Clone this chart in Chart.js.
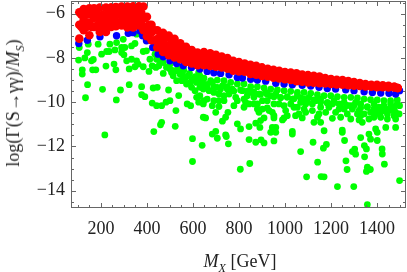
<!DOCTYPE html>
<html>
<head>
<meta charset="utf-8">
<script src="https://cdn.jsdelivr.net/npm/chart.js@4"></script>
<style>
  html, body { margin: 0; padding: 0; background: #fff; }
  #wrap { position: relative; width: 407px; height: 272px; overflow: hidden; }
  canvas { position: absolute; left: 0; top: 0; }
  .axisTitle { position: absolute; font-family: "Liberation Serif", serif; font-size: 18px; color: #222; white-space: nowrap; line-height: 1; }
  .axisTitle i { font-style: italic; }
  .axisTitle sub { font-size: 12px; line-height: 0; }
  #yTitle { left: 13px; top: 103px; transform: translate(-50%, -50%) rotate(-90deg); }
  #xTitle { left: 240px; top: 261px; transform: translate(-50%, -50%); }
</style>
</head>
<body>
<div id="wrap">
  <canvas id="grafico" width="407" height="272"></canvas>
  <div class="axisTitle" id="yTitle">log(Γ(S→γγ)/<i>M</i><sub><i>S</i></sub>)</div>
  <div class="axisTitle" id="xTitle"><i>M</i><sub><i>X</i></sub> [GeV]</div>
</div>
<script>
// ejes
const xMajorTicks = [200, 400, 600, 800, 1000, 1200, 1400];
const xMinorTicks = [100, 150, 250, 300, 350, 450, 500, 550, 650, 700, 750, 850, 900, 950, 1050, 1100, 1150, 1250, 1300, 1350, 1450, 1500];
const yMajorTicks = [-14, -12, -10, -8, -6];
const yMinorTicks = [-14.5, -13.5, -13, -12.5, -11.5, -11, -10.5, -9.5, -9, -8.5, -7.5, -7, -6.5, -5.5];

// puntos rojos, columnas
const redX = [106, 125, 150, 170, 195, 222, 245, 265, 290, 315, 340, 365, 385, 400, 420, 445, 470, 495, 520, 545, 570, 595, 620,
  648, 675, 700, 725, 750, 775, 800, 825, 850, 875, 900, 925, 950, 975, 1000, 1025, 1050, 1075, 1100, 1125, 1150, 1175, 1200, 1225, 1250, 1275, 1300, 1325, 1350, 1375, 1400, 1425, 1450, 1475, 1490];
const redTop = [-5.94, -5.79, -5.76, -5.76, -5.73, -5.73, -5.71, -5.7, -5.68, -5.68, -5.67, -5.67, -5.68, -6.14, -6.51, -6.75, -6.87, -6.99, -7.14, -7.34, -7.5, -7.64, -7.76,
  -7.74, -7.79, -7.86, -7.94, -8.01, -8.13, -8.19, -8.25, -8.31, -8.36, -8.43, -8.49, -8.54, -8.58, -8.64, -8.66, -8.7, -8.75, -8.78, -8.81, -8.84, -8.91, -8.96, -8.99, -9.0, -9.05, -9.09, -9.14, -9.18, -9.21, -9.21, -9.24, -9.26, -9.3, -9.36];
const redMid = [-6.5, -6.3, -6.4, -6.2, -6.3, -6.3, -6.2, -6.1, -6.1, -6.2, -6.15, -6.1, -6.2, -6.6, -6.85, -7.15, -7.3, -7.45, -7.55, -7.7, -7.85, -7.95, -8.05,
  -8.05, -8.08, -8.13, -8.19, -8.25, -8.36, -8.4, -8.44, -8.52, -8.56, -8.62, -8.67, -8.72, -8.75, -8.8, -8.83, -8.87, -8.91, -8.94, -8.96, -8.99, -9.03, -9.07, -9.09, -9.1, -9.14, -9.17, -9.2, -9.23, -9.25, -9.26, -9.28, -9.3, -9.31, -9.36];
const redBottom = [-7.13, -6.75, -6.98, -6.6, -6.83, -6.83, -6.6, -6.57, -6.53, -6.63, -6.63, -6.53, -6.75, -7.02, -7.2, -7.53, -7.73, -7.88, -7.98, -8.06, -8.18, -8.25, -8.33,
  -8.33, -8.36, -8.4, -8.43, -8.49, -8.58, -8.61, -8.62, -8.73, -8.76, -8.82, -8.85, -8.9, -8.93, -8.96, -9.0, -9.05, -9.08, -9.11, -9.12, -9.14, -9.15, -9.18, -9.2, -9.21, -9.23, -9.26, -9.27, -9.29, -9.3, -9.32, -9.32, -9.33, -9.33, -9.36];
// relleno de la parte ancha de la banda
const redFillX = [115, 138, 160, 182, 208, 233, 255, 278, 302, 328, 352, 375, 392, 410, 432, 458, 482, 508, 532, 558, 582, 608, 634, 660, 688];
const redFillUpper = [-6.05, -6.05, -6.05, -6.0, -6.05, -6.0, -6.0, -5.95, -5.95, -5.95, -5.95, -5.95, -6.2, -6.5, -6.75, -7.0, -7.1, -7.25, -7.4, -7.55, -7.7, -7.8, -7.9, -8.0, -8.05];
const redFillLower = [-6.6, -6.6, -6.6, -6.55, -6.6, -6.55, -6.45, -6.4, -6.4, -6.4, -6.4, -6.4, -6.65, -6.9, -7.2, -7.45, -7.55, -7.7, -7.8, -7.9, -8.0, -8.1, -8.15, -8.2, -8.25];

// puntos azules
const blueX = [104, 141, 196, 268, 319, 340, 370, 381, 398, 425, 449, 471, 500, 529, 558, 594, 630,
  662, 691, 720, 757, 793, 815, 851, 880, 916, 960, 996, 1032, 1075, 1112, 1148, 1184, 1220, 1264, 1300, 1344, 1380, 1416, 1452, 1481, 1498];
const blueY = [-7.35, -7.2, -7.05, -7.0, -6.89, -6.86, -6.78, -7.0, -7.23, -7.53, -7.83, -7.95, -8.13, -8.25, -8.36, -8.43, -8.5,
  -8.61, -8.67, -8.7, -8.76, -8.88, -8.91, -8.97, -9.0, -9.05, -9.15, -9.18, -9.21, -9.24, -9.27, -9.33, -9.38, -9.41, -9.44, -9.48, -9.53, -9.56, -9.59, -9.6, -9.63, -9.48];

// puntos verdes: franja bajo la banda azul
const greenBandX = [648, 677, 706, 735, 764, 793, 822, 851, 880, 909, 938, 967, 996, 1025, 1054, 1083, 1112, 1141, 1170, 1199, 1228, 1257, 1286, 1315, 1344, 1372, 1401, 1430, 1459, 1488];
const greenBandY = [-8.91, -9.03, -9.0, -9.03, -9.11, -9.18, -9.18, -9.3, -9.3, -9.36, -9.41, -9.45, -9.48, -9.51, -9.56, -9.56, -9.6, -9.66, -9.71, -9.71, -9.75, -9.78, -9.78, -9.81, -9.86, -9.89, -9.9, -9.93, -9.93, -9.9];
// segunda franja, algo mas abajo
const greenBand2X = [662, 691, 720, 749, 778, 807, 836, 865, 894, 923, 952, 981, 1010, 1039, 1068, 1097, 1126, 1155, 1184, 1213, 1242, 1271, 1300, 1329, 1358, 1387, 1416, 1445, 1474];
const greenBand2Y = [-9.2, -9.3, -9.4, -9.3, -9.5, -9.45, -9.5, -9.55, -9.65, -9.65, -9.75, -9.8, -9.75, -9.85, -9.8, -9.95, -9.9, -10, -10.05, -10.0, -10.1, -10.15, -10.15, -10.25, -10.2, -10.3, -10.3, -10.35, -10.3];
// zona izquierda (M_X < 650)
const greenLeftX = [106, 145, 188, 141, 103, 130, 167, 159, 203, 225, 236, 261, 239, 268, 297, 290, 304, 290, 300, 333, 348, 355, 312, 333, 355, 362, 348, 323, 257, 265, 222, 164, 178, 119, 119, 142, 207, 285, 323, 133, 267, 377, 377, 391, 427, 445, 494, 538, 500, 483, 464, 442, 423, 575, 590, 625, 526, 645, 464, 459, 430, 523, 217, 598, 640, 598,
  384, 398, 384, 409, 439, 452, 471, 423, 500, 529, 551, 594, 630, 609, 514, 536, 543, 514, 500, 442, 471, 558, 580, 601, 630, 616, 645, 572, 645, 630, 616, 645, 413, 435, 456, 485, 507,
  520, 545, 565, 585, 610, 625, 640, 590, 560, 625];
const greenLeftY = [-7.53, -7.38, -7.38, -7.76, -8.1, -8.0, -8.07, -8.13, -7.83, -7.71, -7.71, -7.64, -7.38, -7.31, -7.16, -7.53, -7.53, -7.76, -7.86, -7.46, -7.35, -6.93, -8.13, -8.06, -8.13, -8.28, -8.4, -8.5, -8.28, -8.54, -8.37, -8.54, -8.54, -8.54, -8.73, -9.21, -9.42, -9.45, -9.21, -9.8, -9.9, -9.3, -9.66, -9.75, -9.36, -9.33, -9.45, -9.7, -9.93, -10, -10.16, -10.16, -10.04, -10.08, -10.16, -10, -10.38, -10.68, -10.91, -11.02, -11.33, -11.09, -11.48, -11.65, -11.95, -12.68,
  -7.71, -7.68, -8.4, -8.61, -8.43, -8.36, -8.7, -8.36, -8.5, -9.03, -9.03, -9.33, -9.33, -9.48, -8.81, -8.43, -8.66, -8.58, -8.28, -8.06, -8.21, -8.81, -8.81, -8.96, -8.81, -9.11, -8.96, -9.18, -9.41, -9.71, -9.78, -10.08, -8.06, -7.83, -8.13, -8.43, -8.66,
  -8.6, -8.75, -8.95, -8.7, -8.85, -9.05, -9.15, -9.1, -8.55, -8.65];
// zona derecha, parte densa
const greenDenseX = [662, 684, 706, 670, 728, 749, 771, 757, 786, 735, 713, 691, 815, 836, 822, 851, 865, 887, 916, 902, 938, 960, 981, 1010, 1032, 1054, 1083, 1104, 1133, 1155, 1184, 1213, 1235, 1257, 1286, 1307, 1329, 1358, 1387, 1409, 1430, 1452, 1474, 1488, 1498, 1372, 1416, 1445, 1481, 822, 844, 880, 923, 952, 996, 1039, 1061, 1090, 1119, 1155, 1191, 1220, 1271, 1344, 1322,
  1387, 1416, 1445, 1467, 1496, 1401, 1430, 1459, 1365, 1329, 1293, 1257, 1235, 1206, 1177, 1148, 1119, 1090, 1068, 1025, 974, 931, 865, 829, 793, 778, 662, 648, 691, 735, 713, 1010, 1141, 1242, 1286];
const greenDenseY = [-9.36, -9.11, -9.33, -9.48, -9.26, -9.41, -9.41, -9.63, -9.78, -9.71, -9.63, -9.56, -9.48, -9.71, -9.86, -9.56, -9.78, -9.63, -9.56, -9.93, -9.71, -9.63, -9.78, -9.78, -9.86, -9.71, -9.86, -9.78, -9.93, -9.86, -10.01, -9.93, -10.08, -10.01, -10.16, -10.01, -10.08, -10.23, -10.08, -10.23, -10.16, -10.31, -10.23, -10.08, -10.16, -10.46, -10.46, -10.53, -10.46, -10.23, -10.08, -10.08, -9.93, -10.08, -10.16, -10.23, -10.53, -10.46, -10.38, -10.23, -10.23, -10.46, -10.53, -10.53, -10.38,
  -10.68, -10.68, -10.76, -10.38, -10.53, -10.31, -10.38, -10.08, -10.76, -10.61, -10.31, -10.31, -10.31, -10.08, -10.46, -10.53, -10.08, -10.08, -10.01, -10.08, -10.08, -10.38, -10.08, -10.01, -9.93, -10.16, -9.86, -9.93, -9.93, -9.93, -9.93, -10.61, -10.68, -10.68, -10.76];
// zona derecha, puntos sueltos
const greenSparseX = [655, 699, 684, 713, 752, 742, 728, 793, 844, 807, 699, 684, 742, 873, 891, 945, 960, 960, 938, 1032, 1032, 1170, 1249, 1249, 1126, 1155, 1206, 909, 894, 952, 996, 989, 1075, 1046, 880, 902, 923, 887, 945, 952, 1003, 1054, 1083, 1315, 1322, 1336, 1394, 1481, 1474, 1394, 1401, 1438, 1481, 1365,
  706, 745, 754, 806, 847, 844, 873, 896, 909, 952, 1068, 1122, 1094, 1142, 1157, 1170, 1167, 1180, 1228, 1259, 1265, 1270, 1299, 1293, 1303, 1307, 1345, 1354, 1346, 1358, 1354, 1371, 1358, 1422, 1423, 1432, 1498, 1329, 1372, 1401];
const greenSparseY = [-10.71, -10.46, -10.16, -10.2, -10.46, -10.68, -10.86, -10.98, -11.1, -11.21, -11.32, -11.44, -11.48, -10.95, -11.14, -11.14, -11.14, -11.36, -11.36, -11.32, -11.44, -11.29, -11.26, -11.36, -10.91, -10.91, -10.73, -10.71, -10.83, -10.71, -10.71, -10.8, -10.71, -10.61, -10.31, -10.31, -10.26, -10.46, -10.46, -10.61, -10.38, -10.23, -10.31, -10.53, -10.8, -10.91, -10.53, -10.76, -10.61, -11.21, -11.36, -11.14, -11.14, -11.44,
  -11.63, -11.55, -11.88, -13.03, -12.77, -11.69, -11.81, -11.7, -11.84, -11.75, -12.23, -11.81, -13.37, -12.71, -13.36, -13.37, -12.08, -11.91, -13.81, -11.73, -12.65, -13.04, -13.81, -12.23, -12.12, -12.35, -11.96, -12.11, -12.47, -12.94, -13.13, -13.04, -14.63, -12.11, -12.34, -12.8, -13.54, -11.6, -11.67, -11.73];

function toPoints(xs, ys) {
    return xs.map((x, i) => ({ x: x, y: ys[i] }));
}

const redPoints = [].concat(
    toPoints(redX, redTop), toPoints(redX, redMid), toPoints(redX, redBottom),
    toPoints(redFillX, redFillUpper), toPoints(redFillX, redFillLower)
);
const greenPoints = [].concat(
    toPoints(greenBandX, greenBandY), toPoints(greenBand2X, greenBand2Y), toPoints(greenLeftX, greenLeftY),
    toPoints(greenDenseX, greenDenseY), toPoints(greenSparseX, greenSparseY)
);

// marco y marcas hacia adentro, como en el original
const frameTicks = {
    id: 'frameTicks',
    afterDatasetsDraw(chart) {
        const { ctx, chartArea: a, scales: { x, y } } = chart;
        ctx.save();
        ctx.strokeStyle = '#666';
        ctx.lineWidth = 1;
        ctx.strokeRect(a.left + 0.5, a.top + 0.5, a.right - a.left - 1, a.bottom - a.top - 1);
        const xMark = (v, len) => {
            const px = Math.round(x.getPixelForValue(v)) + 0.5;
            ctx.moveTo(px, a.bottom); ctx.lineTo(px, a.bottom - len);
            ctx.moveTo(px, a.top); ctx.lineTo(px, a.top + len);
        };
        const yMark = (v, len) => {
            const py = Math.round(y.getPixelForValue(v)) + 0.5;
            ctx.moveTo(a.left, py); ctx.lineTo(a.left + len, py);
            ctx.moveTo(a.right, py); ctx.lineTo(a.right - len, py);
        };
        ctx.beginPath();
        xMajorTicks.forEach(v => xMark(v, 5));
        xMinorTicks.forEach(v => xMark(v, 3));
        yMajorTicks.forEach(v => yMark(v, 5));
        yMinorTicks.forEach(v => yMark(v, 3));
        ctx.stroke();
        ctx.restore();
    }
};

// quita el margen que Chart.js reserva para las etiquetas de los extremos
function clearPadding(s) {
    s.paddingTop = 0;
    s.paddingBottom = 0;
    s.paddingLeft = 0;
    s.paddingRight = 0;
}

new Chart(document.getElementById('grafico').getContext('2d'), {
    type: 'scatter',
    data: {
        datasets: [
            { label: 'rojo', data: redPoints, backgroundColor: '#ff0000', pointRadius: 4.3, pointBorderWidth: 0 },
            { label: 'azul', data: toPoints(blueX, blueY), backgroundColor: '#0000ff', pointRadius: 3.7, pointBorderWidth: 0 },
            { label: 'verde', data: greenPoints, backgroundColor: '#00ff00', pointRadius: 3.4, pointBorderWidth: 0 }
        ]
    },
    options: {
        responsive: false,
        animation: false,
        layout: { autoPadding: false, padding: { top: 1, right: 1, left: 0, bottom: 0 } },
        plugins: { legend: { display: false }, title: { display: false }, tooltip: { enabled: false } },
        scales: {
            x: {
                type: 'linear',
                min: 70,
                max: 1526,
                grid: { display: false, drawTicks: false },
                border: { display: false },
                afterBuildTicks: s => { s.ticks = xMajorTicks.map(v => ({ value: v })); },
                afterFit: s => { s.height = 64; clearPadding(s); },
                ticks: {
                    autoSkip: false,
                    maxRotation: 0,
                    padding: 10,
                    color: '#222',
                    font: { family: '"Liberation Serif"', size: 18 },
                    callback: v => String(v)
                }
            },
            y: {
                type: 'linear',
                min: -14.78,
                max: -5.43,
                grid: { display: false, drawTicks: false },
                border: { display: false },
                afterBuildTicks: s => { s.ticks = yMajorTicks.map(v => ({ value: v })); },
                afterFit: s => { s.width = 71; clearPadding(s); },
                ticks: {
                    autoSkip: false,
                    padding: 6,
                    color: '#222',
                    font: { family: '"Liberation Serif"', size: 18 },
                    callback: v => '\u2212' + Math.abs(v)
                }
            }
        }
    },
    plugins: [frameTicks]
});
</script>
</body>
</html>
